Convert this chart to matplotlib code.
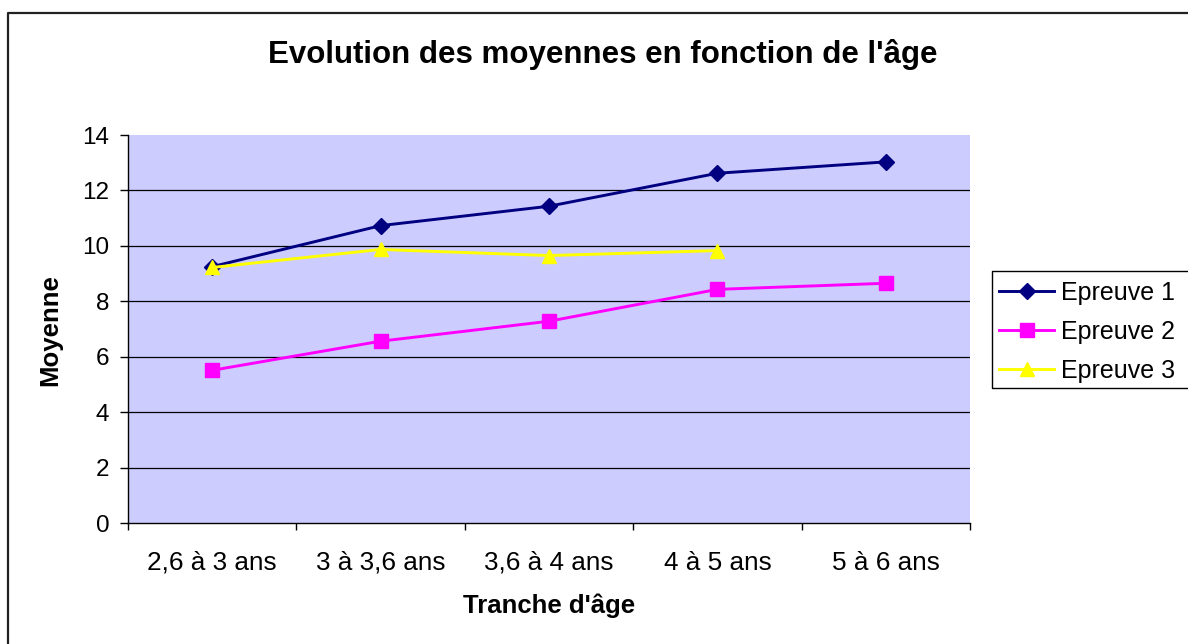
import matplotlib

matplotlib.use("Agg")
import matplotlib.pyplot as plt
from matplotlib.lines import Line2D

plt.rcParams["font.family"] = ["Liberation Sans", "DejaVu Sans"]

# ── Data ─────────────────────────────────────────────────────────────
categories = ["2,6 à 3 ans", "3 à 3,6 ans", "3,6 à 4 ans", "4 à 5 ans", "5 à 6 ans"]
epreuve_1 = [9.25, 10.73, 11.43, 12.62, 13.03]
epreuve_2 = [5.51, 6.56, 7.28, 8.43, 8.65]
epreuve_3 = [9.22, 9.87, 9.65, 9.83]
y_ticks = [0, 2, 4, 6, 8, 10, 12, 14]

NAVY = "#000080"
MAGENTA = "#FF00FF"
YELLOW = "#FFFF00"
BG = "#CCCCFF"

W, H = 1188, 644
fig = plt.figure(figsize=(W / 100, H / 100), dpi=100)


def fx(px):
    return px / W


def fy(py):
    return 1 - py / H


# chart border (only left and top edges are inside the picture)
fig.add_artist(Line2D([fx(8), fx(8), 1.0], [0.0, fy(13), fy(13)],
                      transform=fig.transFigure, color="#222222", linewidth=1.6))

ax = fig.add_axes([fx(128), fy(523), fx(970) - fx(128), fy(135) - fy(523)])
ax.set_facecolor(BG)

x = list(range(len(categories)))
ax.plot(x, epreuve_1, color=NAVY, linewidth=2.1, marker="D", markersize=8.5,
        label="Epreuve 1", zorder=3)
ax.plot(x, epreuve_2, color=MAGENTA, linewidth=2.1, marker="s", markersize=10.5,
        label="Epreuve 2", zorder=3)
ax.plot(x[:len(epreuve_3)], epreuve_3, color=YELLOW, linewidth=2.1, marker="^",
        markersize=10.5, label="Epreuve 3", zorder=4)

ax.set_xlim(-0.5, len(categories) - 0.5)
ax.set_ylim(0, 14)
ax.set_yticks(y_ticks)
ax.set_xticks(x)
ax.set_xticklabels(categories)
ax.set_xticks([i - 0.5 for i in range(len(categories) + 1)], minor=True)
ax.tick_params(axis="x", which="major", length=0, pad=20, labelsize=18.8)
ax.tick_params(axis="x", which="minor", length=5, width=1, direction="out")
ax.tick_params(axis="y", length=5.5, width=1, direction="out", pad=8, labelsize=17.5)

ax.yaxis.grid(True, color="black", linewidth=0.9)
ax.set_axisbelow(True)
gl = ax.yaxis.get_gridlines()
gl[-1].set_visible(False)
gl[0].set_visible(False)

for s in ("top", "right"):
    ax.spines[s].set_visible(False)
for s in ("left", "bottom"):
    ax.spines[s].set_color("black")
    ax.spines[s].set_linewidth(1)

ax.set_xlabel("Tranche d'âge", fontsize=18.5, fontweight="bold")
ax.xaxis.set_label_coords((549 - 128) / 842, (523 - 606) / 388)
ax.xaxis.label.set_va("center")
ax.set_ylabel("Moyenne", fontsize=18.5, fontweight="bold")
ax.yaxis.set_label_coords((50 - 128) / 842, (523 - 330) / 388)
ax.yaxis.label.set_va("center")

fig.text(fx(603), fy(55), "Evolution des moyennes en fonction de l'âge",
         ha="center", va="center", fontsize=22.5, fontweight="bold")

# legend box runs off the right edge of the picture
fig.add_artist(Line2D([1.0, fx(992), fx(992), 1.0],
                      [fy(271), fy(271), fy(388), fy(388)],
                      transform=fig.transFigure, color="black", linewidth=1))
ax.legend(loc="center left", bbox_to_anchor=(fx(999), fy(332)),
          bbox_transform=fig.transFigure, frameon=False,
          fontsize=18, handlelength=2.2, borderpad=0,
          labelspacing=0.6, handletextpad=0.28, borderaxespad=0)

fig.savefig("out.png", dpi=100)
